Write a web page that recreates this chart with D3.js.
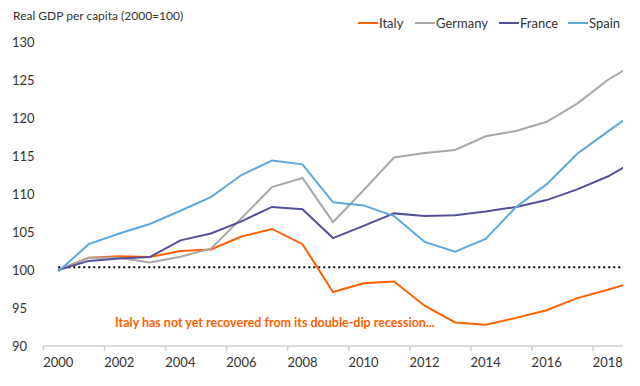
<!DOCTYPE html>
<html>
<head>
<meta charset="utf-8">
<script src="https://cdn.jsdelivr.net/npm/d3@7"></script>
<style>
  body { margin: 0; background: #fff; }
  text { font-family: Lato, "Open Sans", sans-serif; }
</style>
</head>
<body>
<div id="chart"></div>
<script>
const years = d3.range(2000, 2020);
const italy   = [100, 101.6, 101.8, 101.7, 102.5, 102.7, 104.4, 105.4, 103.4, 97.1, 98.25, 98.5, 95.3, 93.1, 92.8, 93.7, 94.7, 96.3, 97.4, 98.6];
const germany = [100, 101.6, 101.6, 101.0, 101.75, 102.8, 106.8, 110.9, 112.1, 106.3, 110.5, 114.8, 115.4, 115.8, 117.6, 118.3, 119.5, 121.9, 125.0, 127.4];
const france  = [100, 101.2, 101.5, 101.7, 103.9, 104.8, 106.4, 108.3, 108.0, 104.2, 105.8, 107.45, 107.1, 107.2, 107.7, 108.3, 109.2, 110.6, 112.3, 114.6];
const spain   = [99.8, 103.4, 104.8, 106.05, 107.8, 109.6, 112.5, 114.4, 113.9, 108.9, 108.5, 107.1, 103.7, 102.4, 104.1, 108.3, 111.3, 115.3, 118.2, 121.1];
const yTicks = [90, 95, 100, 105, 110, 115, 120, 125, 130];
const xTicks = d3.range(2000, 2019, 2);

const series = [
  {name: "Italy", values: italy, color: "#ff6200"},
  {name: "Germany", values: germany, color: "#a8a8a8"},
  {name: "France", values: france, color: "#525199"},
  {name: "Spain", values: spain, color: "#60a7dc"}
];

const width = 640;
const height = 386;
const pl = 43, pr = 623, pt = 42, pb = 346;

const x = d3.scaleLinear().domain([1999.5, 2018.5]).range([pl, pr]);
const y = d3.scaleLinear().domain([90, 130]).range([pb, pt]);

const svg = d3.select("#chart").append("svg")
  .attr("width", width)
  .attr("height", height);

svg.append("defs").append("clipPath").attr("id", "plot")
  .append("rect")
  .attr("x", x(2000) - 3).attr("y", 0)
  .attr("width", pr - x(2000) + 3).attr("height", height);

// title
svg.append("text")
  .attr("x", 13).attr("y", 20)
  .attr("font-size", 12)
  .attr("fill", "#333")
  .text("Real GDP per capita (2000=100)");

// y tick labels
svg.selectAll("text.ytick")
  .data(yTicks)
  .enter()
  .append("text")
  .attr("class", "ytick")
  .attr("x", 12)
  .attr("y", d => y(d))
  .attr("dy", "0.35em")
  .attr("font-size", 13)
  .attr("fill", "#333")
  .text(d => d);

// x axis
const xAxis = svg.append("g")
  .attr("transform", `translate(0,${pb})`)
  .call(d3.axisBottom(x)
    .tickValues(xTicks.map(d => d - 0.5))
    .tickSize(5)
    .tickFormat(""));
xAxis.select(".domain").attr("stroke", "#d0d0d0").attr("stroke-width", 1.5).attr("d", `M${pl},0H${pr}`);
xAxis.selectAll(".tick line").attr("stroke", "#d0d0d0").attr("stroke-width", 1.5);

svg.selectAll("text.xtick")
  .data(xTicks)
  .enter()
  .append("text")
  .attr("class", "xtick")
  .attr("x", d => x(d))
  .attr("y", 367)
  .attr("text-anchor", "middle")
  .attr("font-size", 13)
  .attr("fill", "#333")
  .text(d => d);

// 100 reference line
svg.append("line")
  .attr("x1", x(2000)).attr("x2", pr)
  .attr("y1", y(100.35)).attr("y2", y(100.35))
  .attr("stroke", "#000")
  .attr("stroke-width", 2)
  .attr("stroke-dasharray", "2,3");

const line = d3.line()
  .x((d, i) => x(years[i]))
  .y(d => y(d));

svg.append("g")
  .attr("clip-path", "url(#plot)")
  .selectAll("path.series")
  .data(series)
  .enter()
  .append("path")
  .attr("class", "series")
  .attr("d", d => line(d.values))
  .attr("fill", "none")
  .attr("stroke", d => d.color)
  .attr("stroke-width", 2);

// legend
const legendX = [358, 415, 499, 568];
const legend = svg.selectAll("g.legend")
  .data(series)
  .enter()
  .append("g")
  .attr("class", "legend")
  .attr("transform", (d, i) => `translate(${legendX[i]},23)`);

legend.append("line")
  .attr("x1", 0).attr("x2", 20)
  .attr("stroke", d => d.color)
  .attr("stroke-width", 2);

legend.append("text")
  .attr("x", 21)
  .attr("dy", "0.35em")
  .attr("font-size", 13)
  .attr("fill", "#333")
  .text(d => d.name);

// annotation
svg.append("text")
  .attr("x", 115).attr("y", 327)
  .attr("font-size", 12.5)
  .attr("font-weight", 700)
  .attr("fill", "#ff6200")
  .text("Italy has not yet recovered from its double-dip recession...");
</script>
</body>
</html>
